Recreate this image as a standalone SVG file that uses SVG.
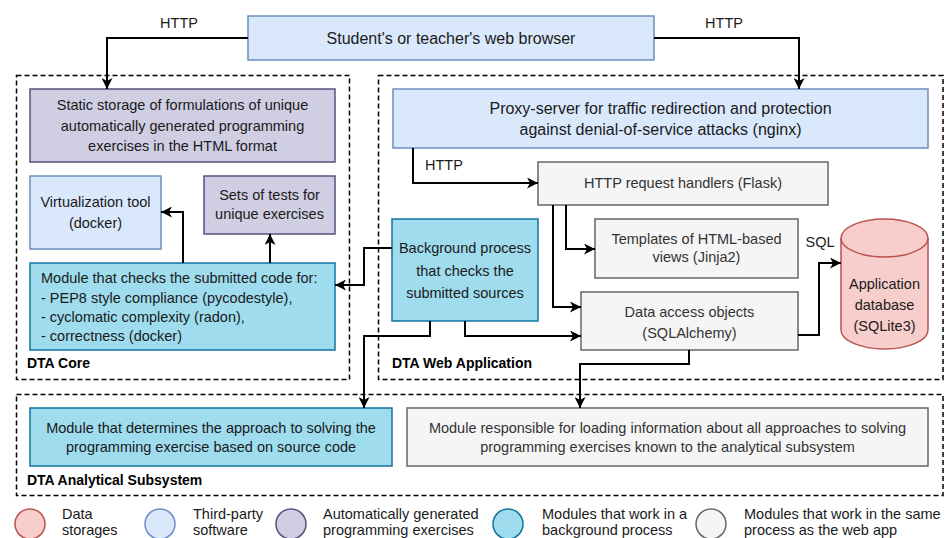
<svg xmlns="http://www.w3.org/2000/svg" width="946" height="538" viewBox="0 0 946 538">
  <defs>
    <marker id="arrow" markerUnits="userSpaceOnUse" markerWidth="12" markerHeight="11" refX="11" refY="5.5" orient="auto">
      <path d="M0,0 L11,5.5 L0,11 L3,5.5 z" fill="#000"/>
    </marker>
    <style>
      text { font-family: "Liberation Sans", Arial, sans-serif; font-size: 14.5px; fill: #1a1a1a; }
      .c { text-anchor: middle; }
      .big { font-size: 16px; }
      .grp { font-weight: bold; font-size: 14px; fill: #000; }
      .gtext { fill: #333333; }
      .container { fill: none; stroke: #000; stroke-width: 1.5; stroke-dasharray: 5 3; }
      .blue { fill: #dae8fc; stroke: #6c8ebf; stroke-width: 1.5; }
      .purple { fill: #d0cee2; stroke: #56517e; stroke-width: 1.5; }
      .cyan { fill: #9fdcee; stroke: #10739e; stroke-width: 1.5; }
      .gray { fill: #f5f5f5; stroke: #666666; stroke-width: 1.5; }
      .red { fill: #f8cecc; stroke: #b85450; stroke-width: 1.5; }
      .edge { fill: none; stroke: #000; stroke-width: 2; marker-end: url(#arrow); }
    </style>
  </defs>
  <rect width="946" height="538" fill="#ffffff"/>

  <!-- Subsystem containers -->
  <g id="dta-core">
    <rect class="container" x="16.5" y="75.5" width="333" height="304"/>
    <text class="grp" x="27" y="368">DTA Core</text>
  </g>
  <g id="dta-web-application">
    <rect class="container" x="378.5" y="75.5" width="564.5" height="304"/>
    <text class="grp" x="392" y="368">DTA Web Application</text>
  </g>
  <g id="dta-analytical-subsystem">
    <rect class="container" x="16.5" y="394.5" width="926.5" height="101"/>
    <text class="grp" x="27" y="485">DTA Analytical Subsystem</text>
  </g>

  <!-- Nodes -->
  <g id="browser">
    <rect class="blue" x="248" y="16" width="406" height="44"/>
    <text class="c big" x="451" y="44">Student's or teacher's web browser</text>
  </g>
  <g id="static-storage">
    <rect class="purple" x="30" y="89" width="305" height="73"/>
    <text class="c" x="182.5" y="110">Static storage of formulations of unique</text>
    <text class="c" x="182.5" y="131">automatically generated programming</text>
    <text class="c" x="182.5" y="151">exercises in the HTML format</text>
  </g>
  <g id="virtualization-tool">
    <rect class="blue" x="30" y="176" width="131" height="73"/>
    <text class="c" x="95.5" y="207">Virtualization tool</text>
    <text class="c" x="95.5" y="228">(docker)</text>
  </g>
  <g id="test-sets">
    <rect class="purple" x="204" y="176" width="131" height="58"/>
    <text class="c" x="269.5" y="200">Sets of tests for</text>
    <text class="c" x="269.5" y="219">unique exercises</text>
  </g>
  <g id="checker-module">
    <rect class="cyan" x="30" y="263" width="305" height="87"/>
    <text x="41" y="283">Module that checks the submitted code for:</text>
    <text x="41" y="303">- PEP8 style compliance (pycodestyle),</text>
    <text x="41" y="322">- cyclomatic complexity (radon),</text>
    <text x="41" y="341">- correctness (docker)</text>
  </g>
  <g id="proxy-server">
    <rect class="blue" x="393" y="89" width="535" height="59"/>
    <text class="c big" x="660.5" y="114">Proxy-server for traffic redirection and protection</text>
    <text class="c big" x="660.5" y="135">against denial-of-service attacks (nginx)</text>
  </g>
  <g id="request-handlers">
    <rect class="gray" x="538" y="162" width="290" height="43"/>
    <text class="c gtext" x="683" y="188">HTTP request handlers (Flask)</text>
  </g>
  <g id="templates">
    <rect class="gray" x="595" y="219" width="203" height="59"/>
    <text class="c gtext" x="696.5" y="244">Templates of HTML-based</text>
    <text class="c gtext" x="696.5" y="262">views (Jinja2)</text>
  </g>
  <g id="data-access-objects">
    <rect class="gray" x="581" y="292" width="217" height="58"/>
    <text class="c gtext" x="689.5" y="317">Data access objects</text>
    <text class="c gtext" x="689.5" y="338">(SQLAlchemy)</text>
  </g>
  <g id="application-database">
    <path class="red" d="M841,238 A43.5,19 0 0 1 928,238 L928,330 A43.5,19 0 0 1 841,330 Z"/>
    <path d="M841,238 A43.5,19 0 0 0 928,238" fill="none" stroke="#b85450" stroke-width="1.5"/>
    <text class="c" x="884.5" y="289">Application</text>
    <text class="c" x="884.5" y="310">database</text>
    <text class="c" x="884.5" y="331">(SQLite3)</text>
  </g>
  <g id="background-process">
    <rect class="cyan" x="392" y="219" width="146" height="102"/>
    <text class="c" x="465" y="253">Background process</text>
    <text class="c" x="465" y="276">that checks the</text>
    <text class="c" x="465" y="298">submitted sources</text>
  </g>
  <g id="approach-detector">
    <rect class="cyan" x="30" y="408" width="362" height="58"/>
    <text class="c" x="211" y="433">Module that determines the approach to solving the</text>
    <text class="c" x="211" y="452">programming exercise based on source code</text>
  </g>
  <g id="approach-loader">
    <rect class="gray" x="407" y="408" width="521" height="58"/>
    <text class="c gtext" x="667.5" y="433">Module responsible for loading information about all approaches to solving</text>
    <text class="c gtext" x="667.5" y="452">programming exercises known to the analytical subsystem</text>
  </g>

  <!-- Connectors -->
  <g id="connectors">
    <path class="edge" d="M248,38 H107 V89"/>
    <path class="edge" d="M654,38 H799 V89"/>
    <path class="edge" d="M413,148 V183 H538"/>
    <path class="edge" d="M566,205 V249 H595"/>
    <path class="edge" d="M553,205 V307 H581"/>
    <path class="edge" d="M798,335 H819 V263 H841"/>
    <path class="edge" d="M392,248 H364 V285 H335"/>
    <path class="edge" d="M430,321 V336 H364 V408"/>
    <path class="edge" d="M465,321 V336 H581"/>
    <path class="edge" d="M689,350 V364 H580 V408"/>
    <path class="edge" d="M183,263 V212 H161"/>
    <path class="edge" d="M270,263 V234"/>
    <text class="c" x="179" y="28">HTTP</text>
    <text class="c" x="724" y="28">HTTP</text>
    <text x="425" y="170">HTTP</text>
    <text class="c" x="820" y="247">SQL</text>
  </g>

  <!-- Legend -->
  <g id="legend">
    <circle class="red" cx="30" cy="524" r="15"/>
    <text x="62" y="519">Data</text>
    <text x="62" y="535">storages</text>
    <circle class="blue" cx="160" cy="524" r="15"/>
    <text x="193" y="519">Third-party</text>
    <text x="193" y="535">software</text>
    <circle class="purple" cx="291" cy="524" r="15"/>
    <text x="323" y="519">Automatically generated</text>
    <text x="323" y="535">programming exercises</text>
    <circle class="cyan" cx="508" cy="524" r="15"/>
    <text x="542" y="519">Modules that work in a</text>
    <text x="542" y="535">background process</text>
    <circle class="gray" cx="711" cy="524" r="15"/>
    <text x="744" y="519">Modules that work in the same</text>
    <text x="744" y="535">process as the web app</text>
  </g>
</svg>
